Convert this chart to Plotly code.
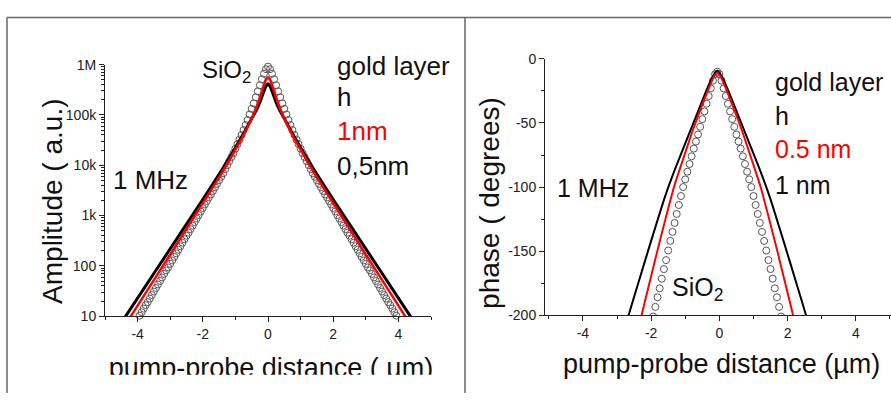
import plotly.graph_objects as go
import numpy as np

W, H = 891, 401
FONT = "Liberation Sans, Arial, Helvetica, sans-serif"

# ---------------- data: left panel (amplitude, log10 of a.u.) ----------------
amp_x_sio2 = [i / 16 for i in range(-63, 64)]
amp_sio2_log10 = [1.01, 1.08, 1.15, 1.22, 1.28, 1.35, 1.42, 1.49, 1.56, 1.63, 1.70, 1.77, 1.84, 1.91, 1.97,
                  2.04, 2.11, 2.18, 2.25, 2.32, 2.39, 2.46, 2.53, 2.60, 2.66, 2.73, 2.80, 2.87, 2.94, 3.01,
                  3.08, 3.15, 3.22, 3.29, 3.36, 3.42, 3.49, 3.56, 3.63, 3.70, 3.77, 3.84, 3.92, 4.00, 4.08,
                  4.16, 4.24, 4.33, 4.42, 4.51, 4.60, 4.70, 4.80, 4.90, 5.01, 5.12, 5.23, 5.35, 5.47, 5.59,
                  5.71, 5.82, 5.91, 5.96, 5.91, 5.82, 5.71, 5.59, 5.47, 5.35, 5.23, 5.12, 5.01, 4.90, 4.80,
                  4.70, 4.60, 4.51, 4.42, 4.33, 4.24, 4.16, 4.08, 4.00, 3.92, 3.84, 3.77, 3.70, 3.63, 3.56,
                  3.49, 3.42, 3.36, 3.29, 3.22, 3.15, 3.08, 3.01, 2.94, 2.87, 2.80, 2.73, 2.66, 2.60, 2.53,
                  2.46, 2.39, 2.32, 2.25, 2.18, 2.11, 2.04, 1.97, 1.91, 1.84, 1.77, 1.70, 1.63, 1.56, 1.49,
                  1.42, 1.35, 1.28, 1.22, 1.15, 1.08, 1.01]

amp_x_lines = [-4.6, -4.0, -3.0, -2.0, -1.5, -1.25, -1.0, -0.75, -0.5, -0.375, -0.25, -0.1875, -0.125, -0.0625, 0,
               0.0625, 0.125, 0.1875, 0.25, 0.375, 0.5, 0.75, 1.0, 1.25, 1.5, 2.0, 3.0, 4.0, 4.6]
amp_05nm_log10 = [0.77, 1.36, 2.34, 3.32, 3.82, 4.08, 4.35, 4.63, 4.93, 5.07, 5.25, 5.36, 5.47, 5.57, 5.62,
                  5.57, 5.47, 5.36, 5.25, 5.07, 4.93, 4.63, 4.35, 4.08, 3.82, 3.32, 2.34, 1.36, 0.77]
amp_1nm_log10 = [0.60, 1.21, 2.23, 3.25, 3.76, 4.03, 4.31, 4.60, 4.93, 5.12, 5.34, 5.47, 5.59, 5.70, 5.75,
                 5.70, 5.59, 5.47, 5.34, 5.12, 4.93, 4.60, 4.31, 4.03, 3.76, 3.25, 2.23, 1.21, 0.60]

amp_tickvals = [10, 100, 1e3, 1e4, 1e5, 1e6]
amp_ticktext = ["10", "100", "1k", "10k", "100k", "1M"]

# ---------------- data: right panel (phase, degrees) ----------------
ph_x_sio2 = [i / 16 for i in range(-32, 31)]
ph_sio2 = [-208, -201, -193.5, -186, -179, -171.5, -164, -157, -149.5, -142, -135, -128, -121, -114, -107, -100,
           -94, -88, -82, -76, -70, -64.5, -59, -53, -47, -41, -35, -29, -23, -17, -12, -10,
           -12, -17, -23, -29, -35, -41, -47, -53, -59, -64.5, -70, -76, -82, -88, -94, -100,
           -107, -114, -121, -128, -135, -142, -149.5, -157, -164, -171.5, -179, -186, -193.5, -201, -208]

ph_x_1nm = [-2.90, -2.66, -2.40, -2.00, -1.60, -1.30, -1.00, -0.70, -0.40, -0.20, -0.06,
            0.08, 0.28, 0.58, 0.88, 1.18, 1.48, 1.88, 2.28, 2.54, 2.78]
ph_1nm = [-221, -200, -177, -142, -108, -86, -66, -46, -26, -14, -9,
          -14, -26, -46, -66, -86, -108, -142, -177, -200, -221]

ph_x_05nm = [-2.51, -2.28, -2.06, -1.81, -1.56, -1.33, -1.06, -0.81, -0.56, -0.31, -0.16, -0.06,
             0.04, 0.19, 0.44, 0.69, 0.94, 1.21, 1.44, 1.69, 1.94, 2.16, 2.39]
ph_05nm = [-225, -200, -176, -149, -123, -100, -78, -58, -40, -23, -14, -11,
           -14, -23, -40, -58, -78, -100, -123, -149, -176, -200, -225]

ph_tickvals = [-200, -150, -100, -50, 0]
ph_ticktext = ["-200", "-150", "-100", "-50", "0"]
x_tickvals = [-4, -2, 0, 2, 4]
x_ticktext = ["-4", "-2", "0", "2", "4"]


def px(x):
    return x / W


def py(y):
    return 1 - y / H


fig = go.Figure()

circ = dict(symbol="circle-open", size=7, color="#555", line=dict(width=1, color="#555"))

# left panel
fig.add_trace(go.Scatter(x=amp_x_sio2, y=np.power(10.0, amp_sio2_log10), mode="markers", marker=circ,
                         cliponaxis=False, xaxis="x", yaxis="y", showlegend=False))
fig.add_trace(go.Scatter(x=amp_x_lines, y=np.power(10.0, amp_05nm_log10), mode="lines",
                         line=dict(color="black", width=3, shape="spline", smoothing=0.6),
                         xaxis="x", yaxis="y", showlegend=False))
fig.add_trace(go.Scatter(x=amp_x_lines, y=np.power(10.0, amp_1nm_log10), mode="lines",
                         line=dict(color="red", width=2.5, shape="spline", smoothing=0.6),
                         xaxis="x", yaxis="y", showlegend=False))

# right panel
fig.add_trace(go.Scatter(x=ph_x_sio2, y=ph_sio2, mode="markers", marker=circ,
                         xaxis="x2", yaxis="y2", showlegend=False))
fig.add_trace(go.Scatter(x=ph_x_1nm, y=ph_1nm, mode="lines",
                         line=dict(color="black", width=2, shape="spline", smoothing=0.5),
                         xaxis="x2", yaxis="y2", showlegend=False))
fig.add_trace(go.Scatter(x=ph_x_05nm, y=ph_05nm, mode="lines",
                         line=dict(color="red", width=2, shape="spline", smoothing=0.5),
                         xaxis="x2", yaxis="y2", showlegend=False))

# left x-title, clipped at its bottom as in the reference
fig.add_trace(go.Scatter(x=[271], y=[377], mode="text", text=["pump-probe distance ( µm)"],
                         textposition="middle center", textfont=dict(size=27, family=FONT, color="#111"),
                         cliponaxis=True, xaxis="x3", yaxis="y3", showlegend=False, hoverinfo="skip"))

axis_common = dict(showgrid=False, zeroline=False, showline=True, linecolor="#222", linewidth=1,
                   ticks="outside", ticklen=5, tickwidth=1, tickcolor="#222",
                   tickfont=dict(size=14, family=FONT, color="#222"))

fig.update_layout(
    width=W, height=H, margin=dict(l=0, r=0, t=0, b=0),
    paper_bgcolor="white", plot_bgcolor="rgba(0,0,0,0)",
    xaxis=dict(domain=[px(105), px(431)], range=[-5, 5], anchor="y",
               tickmode="array", tickvals=x_tickvals, ticktext=x_ticktext,
               minor=dict(tickvals=[-5, -3, -1, 1, 3, 5], ticks="outside", ticklen=3, tickcolor="#222"),
               **axis_common),
    yaxis=dict(domain=[py(321), py(59)], type="log", range=[1, 6], anchor="x",
               tickmode="array", tickvals=amp_tickvals, ticktext=amp_ticktext,
               minor=dict(tickvals=[k * 10 ** n for n in range(1, 6) for k in range(2, 10)],
                          ticks="outside", ticklen=3, tickcolor="#222"),
               **axis_common),
    xaxis2=dict(domain=[px(545), 1.0], range=[-5.11, 5.03], anchor="y2",
                tickmode="array", tickvals=x_tickvals, ticktext=x_ticktext,
                minor=dict(tickvals=[-5, -3, -1, 1, 3, 5], ticks="outside", ticklen=3, tickcolor="#222"),
                **axis_common),
    yaxis2=dict(domain=[py(320), py(53)], range=[-200, 0], anchor="x2",
                tickmode="array", tickvals=ph_tickvals, ticktext=ph_ticktext,
                minor=dict(tickvals=[-175, -125, -75, -25], ticks="outside", ticklen=3, tickcolor="#222"),
                **axis_common),
    xaxis3=dict(domain=[0, px(463)], range=[0, 463], visible=False, anchor="y3"),
    yaxis3=dict(domain=[py(382), py(340)], range=[382, 340], visible=False, anchor="x3"),
)

# frame lines
frame = dict(color="#666", width=1.5)
fig.add_shape(type="line", xref="paper", yref="paper", x0=px(7), x1=1.0, y0=py(10), y1=py(10), line=frame)
fig.add_shape(type="line", xref="paper", yref="paper", x0=px(7), x1=px(7), y0=0, y1=py(10), line=frame)
fig.add_shape(type="line", xref="paper", yref="paper", x0=px(465), x1=px(465), y0=0, y1=py(10), line=frame)


def ann(text, x, y, size, color="#111", xanchor="left", angle=0):
    fig.add_annotation(text=text, x=px(x), y=py(y), xref="paper", yref="paper", showarrow=False,
                       xanchor=xanchor, yanchor="middle", textangle=angle,
                       font=dict(size=size, family=FONT, color=color))


# left panel texts
ann("SiO<sub>2</sub>", 200, 66, 24)
ann("gold layer", 335, 60, 26)
ann("h", 335, 93, 26)
ann("1nm", 335, 128, 26, color="red")
ann("0,5nm", 335, 165, 26)
ann("1 MHz", 111, 179, 26)
ann("Amplitude ( a.u.)", 53, 202, 28, xanchor="center", angle=-90)

# right panel texts
ann("gold layer", 773, 77, 25)
ann("h", 773, 112, 25)
ann("0.5 nm", 773, 147, 25, color="red")
ann("1 nm", 773, 184, 25)
ann("1 MHz", 555, 188, 25)
ann("SiO<sub>2</sub>", 670, 293, 25)
ann("phase ( degrees)", 490, 203, 28, xanchor="center", angle=-90)
ann("pump-probe distance (µm)", 721, 371, 27, xanchor="center")

fig.write_html("out.html")
